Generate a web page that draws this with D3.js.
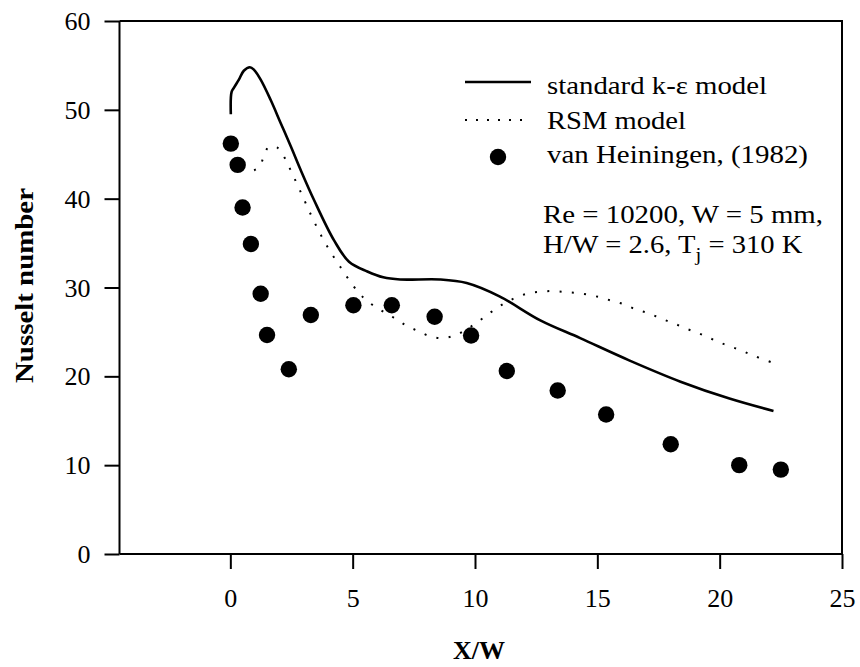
<!DOCTYPE html>
<html>
<head>
<meta charset="utf-8">
<script src="https://cdn.jsdelivr.net/npm/d3@7/dist/d3.min.js"></script>
<style>
  html, body { margin: 0; padding: 0; background: #fff; }
  svg { display: block; }
  text { font-family: "Liberation Serif", "Times New Roman", serif; fill: #000; }
</style>
</head>
<body>
<svg id="chart" width="860" height="667"></svg>
<script>
// Local Nusselt number along the impingement wall, X/W
const keX = [0.02, 0.05, 0.15, 0.35, 0.55, 0.8, 0.97, 1.24, 1.65, 2.06, 2.47, 2.88, 3.42, 4.24, 4.85, 5.6, 6.25, 6.94, 8.57, 9.66, 11.0, 12.67, 14.3, 16.3, 18.4, 20.4, 22.2];
const keY = [49.5, 52.0, 52.5, 53.4, 54.4, 54.8, 54.5, 53.4, 51.1, 48.5, 45.9, 43.2, 39.85, 35.3, 32.9, 31.8, 31.15, 30.9, 30.9, 30.5, 29.0, 26.3, 24.3, 21.8, 19.4, 17.5, 16.1];

const rsmX = [0.97, 1.2, 1.37, 1.58, 1.95, 2.22, 2.45, 2.9, 3.36, 3.88, 4.5, 5.22, 5.68, 6.18, 6.68, 7.17, 7.67, 8.17, 8.67, 9.17, 9.66, 10.15, 10.64, 11.13, 11.62, 12.12, 12.6, 13.13, 13.63, 14.1, 14.6, 15.1, 15.6, 16.1, 16.6, 17.1, 17.6, 18.1, 18.6, 19.1, 19.6, 20.1, 20.65, 21.15, 21.6, 22.2];
const rsmY = [43.2, 43.6, 44.8, 45.85, 45.7, 44.6, 43.3, 40.6, 37.8, 35.0, 32.3, 29.5, 28.3, 27.4, 26.6, 25.75, 25.1, 24.5, 24.3, 24.6, 25.3, 26.2, 27.2, 28.1, 28.8, 29.3, 29.5, 29.6, 29.5, 29.4, 29.2, 28.9, 28.5, 28.1, 27.5, 27.1, 26.5, 26.0, 25.4, 24.9, 24.3, 23.7, 23.15, 22.6, 22.1, 21.5];

const expX = [0.02, 0.3, 0.5, 0.84, 1.24, 1.5, 2.39, 3.29, 5.03, 6.6, 8.35, 9.84, 11.3, 13.38, 15.36, 18.0, 20.8, 22.5];
const expY = [46.2, 43.8, 39.0, 34.9, 29.3, 24.65, 20.8, 26.9, 28.0, 28.0, 26.7, 24.6, 20.6, 18.4, 15.7, 12.35, 10.0, 9.5];

const xTicks = [0, 5, 10, 15, 20, 25];
const yTicks = [0, 10, 20, 30, 40, 50, 60];

const legendLabels = ["standard k-\u03b5 model", "RSM model", "van Heiningen, (1982)"];

const svg = d3.select("#chart");
const plot = { left: 119.5, right: 842, top: 21, bottom: 554 };

const x = d3.scaleLinear().domain([-4.53, 25]).range([plot.left, plot.right]);
const y = d3.scaleLinear().domain([0, 60]).range([plot.bottom, plot.top]);

const fontSize = 26;

// frame (top and right edges)
svg.append("path")
  .attr("d", `M${plot.left},${plot.top}H${plot.right}V${plot.bottom}`)
  .attr("fill", "none").attr("stroke", "#000").attr("stroke-width", 2);

// left axis
const yAxis = svg.append("g")
  .attr("transform", `translate(${plot.left},0)`)
  .call(d3.axisLeft(y).tickValues(yTicks).tickSize(15).tickPadding(14).tickFormat(d3.format("d")));

// bottom axis
const xAxis = svg.append("g")
  .attr("transform", `translate(0,${plot.bottom})`)
  .call(d3.axisBottom(x).tickValues(xTicks).tickSize(15).tickPadding(20).tickFormat(d3.format("d")));

[yAxis, xAxis].forEach(g => {
  g.attr("font-family", null);
  g.select(".domain").remove();
  g.selectAll(".tick line").attr("stroke-width", 2);
  g.selectAll(".tick text").style("font-size", fontSize + "px")
    .style("font-family", "'Liberation Serif', 'Times New Roman', serif");
});
// axis lines
svg.append("line").attr("x1", plot.left).attr("x2", plot.left)
  .attr("y1", plot.top).attr("y2", plot.bottom).attr("stroke", "#000").attr("stroke-width", 2);
svg.append("line").attr("x1", plot.left).attr("x2", plot.right)
  .attr("y1", plot.bottom).attr("y2", plot.bottom).attr("stroke", "#000").attr("stroke-width", 2);

yAxis.selectAll(".tick text").attr("dy", "0.33em");

// curves
const line = d3.line().x(d => x(d[0])).y(d => y(d[1])).curve(d3.curveCatmullRom.alpha(0.5));

svg.append("path")
  .datum(keX.map((v, i) => [v, keY[i]]))
  .attr("d", line)
  .attr("fill", "none").attr("stroke", "#000").attr("stroke-width", 2.6);

svg.append("path")
  .datum(rsmX.map((v, i) => [v, rsmY[i]]))
  .attr("d", line)
  .attr("fill", "none").attr("stroke", "#000").attr("stroke-width", 2)
  .attr("stroke-dasharray", "2,10.3");

// measurements
svg.append("g").selectAll("circle")
  .data(expX.map((v, i) => [v, expY[i]]))
  .join("circle")
  .attr("cx", d => x(d[0])).attr("cy", d => y(d[1])).attr("r", 8.2).attr("fill", "#000");

// axis titles
svg.append("text")
  .attr("x", 479).attr("y", 658.5)
  .attr("text-anchor", "middle")
  .style("font-size", fontSize + "px").style("font-weight", "bold")
  .text("X/W");

svg.append("text")
  .attr("transform", "translate(33,285.5) rotate(-90)")
  .attr("text-anchor", "middle")
  .attr("textLength", 195).attr("lengthAdjust", "spacingAndGlyphs")
  .style("font-size", fontSize + "px").style("font-weight", "bold")
  .text("Nusselt number");

// legend
const lg = svg.append("g");
lg.append("line").attr("x1", 465).attr("x2", 531).attr("y1", 82).attr("y2", 82)
  .attr("stroke", "#000").attr("stroke-width", 2.6);
lg.append("line").attr("x1", 465).attr("x2", 531).attr("y1", 120).attr("y2", 120)
  .attr("stroke", "#000").attr("stroke-width", 2).attr("stroke-dasharray", "2,9");
lg.append("circle").attr("cx", 498).attr("cy", 157).attr("r", 8.2).attr("fill", "#000");
const legendBase = [94, 128.5, 163];
const legendWidth = [220, 139, 261];
legendLabels.forEach((t, i) => {
  lg.append("text").attr("x", 547).attr("y", legendBase[i])
    .attr("textLength", legendWidth[i]).attr("lengthAdjust", "spacingAndGlyphs")
    .style("font-size", fontSize + "px").text(t);
});

// flow conditions
const note = svg.append("g");
note.append("text").attr("x", 543).attr("y", 222.7)
  .attr("textLength", 280).attr("lengthAdjust", "spacingAndGlyphs")
  .style("font-size", fontSize + "px").text("Re = 10200, W = 5 mm,");
const t2 = note.append("text").attr("x", 543).attr("y", 253)
  .attr("transform", "translate(543,0) scale(1.1,1) translate(-543,0)")
  .style("font-size", fontSize + "px");
t2.append("tspan").text("H/W = 2.6, T");
t2.append("tspan").attr("dy", 8).style("font-size", "19px").text("j");
t2.append("tspan").attr("dy", -8).text(" = 310 K");
</script>
</body>
</html>
